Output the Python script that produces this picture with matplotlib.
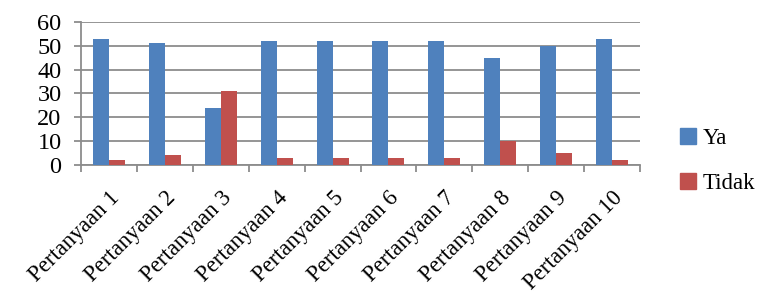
import numpy as np
import matplotlib.pyplot as plt
from matplotlib.patches import Patch

categories = ["Pertanyaan 1", "Pertanyaan 2", "Pertanyaan 3", "Pertanyaan 4",
              "Pertanyaan 5", "Pertanyaan 6", "Pertanyaan 7", "Pertanyaan 8",
              "Pertanyaan 9", "Pertanyaan 10"]
ya = [53, 51, 24, 52, 52, 52, 52, 45, 50, 53]
tidak = [2, 4, 31, 3, 3, 3, 3, 10, 5, 2]
series_names = ["Ya", "Tidak"]

plt.rcParams['font.family'] = ['Liberation Serif', 'DejaVu Serif']

fig = plt.figure(figsize=(7.6, 2.96), dpi=100)
ax = fig.add_axes([0.1066, 0.4426, 0.7355, 0.4831])

blue = "#4F81BD"
red = "#C0504D"
grid = "#8C8C8C"

x = np.arange(len(categories))
w = 0.286
ax.bar(x - w / 2, ya, width=w, color=blue, zorder=3)
ax.bar(x + w / 2, tidak, width=w, color=red, zorder=3)

ax.set_xlim(-0.5, len(categories) - 0.5)
ax.set_ylim(0, 60)
ax.set_yticks(range(0, 61, 10))
ax.yaxis.grid(True, color=grid, linewidth=1.3, zorder=0)
ax.set_axisbelow(True)

for s in ["top", "right"]:
    ax.spines[s].set_visible(False)
ax.spines["left"].set_color(grid)
ax.spines["bottom"].set_color(grid)
ax.spines["left"].set_linewidth(1.3)
ax.spines["bottom"].set_linewidth(1.3)

# ticks at category boundaries, labels at centers
ax.set_xticks(np.arange(-0.5, len(categories), 1.0))
ax.set_xticklabels([])
ax.set_xticks(x, minor=True)
ax.set_xticklabels(categories, minor=True, rotation=45, ha="right",
                   rotation_mode="anchor", fontsize=16.5)
ax.tick_params(axis="x", which="major", length=5, width=1.3, color=grid)
ax.tick_params(axis="x", which="minor", length=0, pad=16)
ax.tick_params(axis="y", length=5, width=1.3, color=grid, labelsize=17.5, pad=9)

handles = [Patch(color=blue), Patch(color=red)]
fig.legend(handles, series_names, loc="center left", bbox_to_anchor=(0.895, 0.456),
           frameon=False, fontsize=16.5, handlelength=0.7, handleheight=0.7,
           handletextpad=0.3, labelspacing=1.05, borderpad=0, borderaxespad=0)

fig.savefig("out.png", dpi=100)
